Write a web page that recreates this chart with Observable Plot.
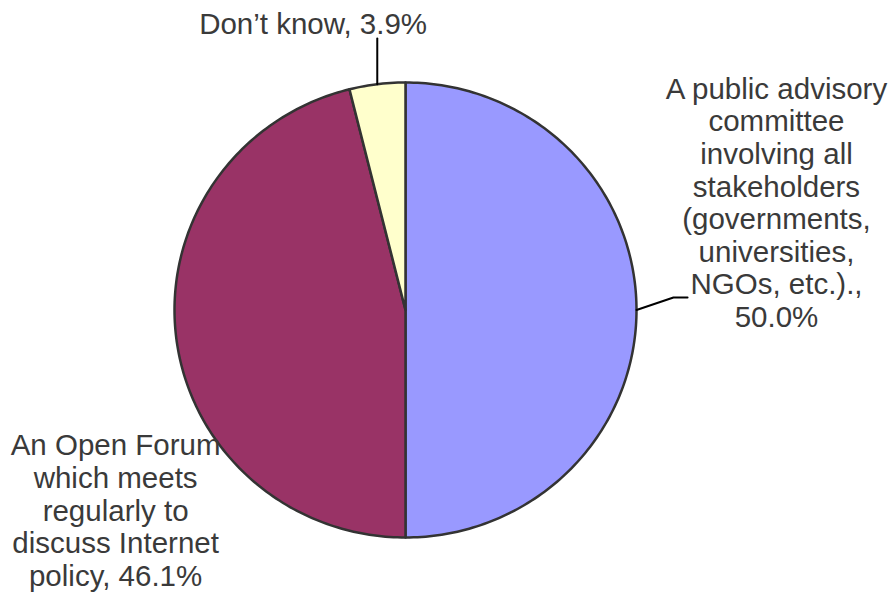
<!DOCTYPE html>
<html>
<head>
<meta charset="utf-8">
<script src="https://cdn.jsdelivr.net/npm/d3@7"></script>
<script src="https://cdn.jsdelivr.net/npm/@observablehq/plot@0.6"></script>
<style>
  html, body { margin: 0; padding: 0; background: #fff; }
  #chart { width: 891px; height: 595px; }
</style>
</head>
<body>
<div id="chart"></div>
<script>
// ---- Data ----
const categories = [
  "A public advisory committee involving all stakeholders (governments, universities, NGOs, etc.).",
  "An Open Forum which meets regularly to discuss Internet policy",
  "Don’t know"
];
const values = [50.0, 46.1, 3.9];
const labels = [
  "A public advisory\ncommittee\ninvolving all\nstakeholders\n(governments,\nuniversities,\nNGOs, etc.).,\n50.0%",
  "An Open Forum\nwhich meets\nregularly to\ndiscuss Internet\npolicy, 46.1%",
  "Don’t know, 3.9%"
];
const colors = ["#9999FF", "#993366", "#FFFFCC"];

// ---- Layout (in scale units: pie radius = 1) ----
const labelPos = [
  {x: 1.606, y: 0.473},
  {x: -1.255, y: -0.880},
  {x: -0.400, y: 1.259}
];

// Build slice polygons from the values (clockwise from 12 o'clock)
const total = d3.sum(values);
const slices = [];
const polys = [];
let acc = 0;
values.forEach((v, i) => {
  const a0 = acc / total * 2 * Math.PI;
  acc += v;
  const a1 = acc / total * 2 * Math.PI;
  const n = Math.max(4, Math.ceil((a1 - a0) / (Math.PI / 180)));
  polys.push({cat: categories[i], x: 0, y: 0, k: 0});
  for (let j = 0; j <= n; j++) {
    const a = a0 + (a1 - a0) * j / n;
    polys.push({cat: categories[i], x: Math.sin(a), y: Math.cos(a), k: j + 1});
  }
  slices.push({cat: categories[i], mid: (a0 + a1) / 2, label: labels[i], color: colors[i], ...labelPos[i]});
});

// Leader lines
const leaders = [];
{
  const s = slices[0];
  leaders.push({id: 0, x: Math.sin(s.mid), y: Math.cos(s.mid)});
  leaders.push({id: 0, x: 1.160, y: 0.055});
  leaders.push({id: 0, x: 1.221, y: 0.055});
}
{
  const s = slices[2];
  leaders.push({id: 2, x: Math.sin(s.mid), y: Math.cos(s.mid)});
  leaders.push({id: 2, x: Math.sin(s.mid), y: 1.193});
}

const chart = Plot.plot({
  width: 891,
  height: 595,
  margin: 0,
  style: {fontFamily: "'Liberation Sans', Arial, Helvetica, sans-serif", background: "#fff"},
  x: {domain: [-1, 1], range: [174, 636], axis: null},
  y: {domain: [-1, 1], range: [537, 82], axis: null},
  color: {domain: categories, range: colors},
  marks: [
    Plot.line(polys, {
      x: "x", y: "y", z: "cat", fill: "cat",
      stroke: "#333333", strokeWidth: 2.5, curve: "linear-closed",
      strokeLinejoin: "round"
    }),
    Plot.line(leaders, {x: "x", y: "y", z: "id", stroke: "#000", strokeWidth: 2}),
    Plot.text(slices, {
      x: "x", y: "y", text: "label",
      fontSize: 29.5, lineHeight: 1.105, fill: "#3a3a3a", textAnchor: "middle"
    })
  ]
});
document.getElementById("chart").appendChild(chart);
</script>
</body>
</html>
